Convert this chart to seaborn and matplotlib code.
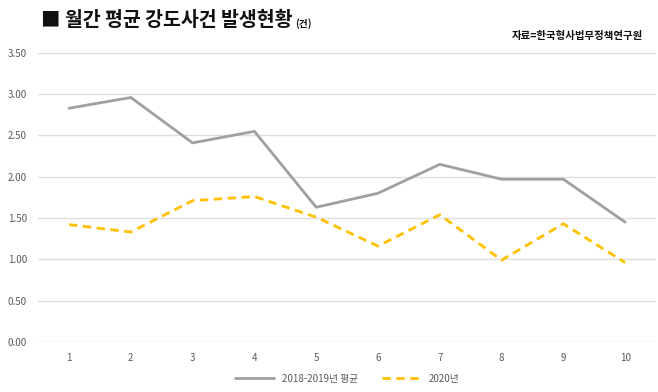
import numpy as np
import pandas as pd
import matplotlib
matplotlib.use("Agg")
import matplotlib.pyplot as plt
import seaborn as sns

# data
months = [1, 2, 3, 4, 5, 6, 7, 8, 9, 10]
avg_2018_2019 = [2.83, 2.96, 2.41, 2.55, 1.63, 1.80, 2.15, 1.97, 1.97, 1.45]
y2020 = [1.42, 1.33, 1.71, 1.76, 1.51, 1.16, 1.54, 0.99, 1.43, 0.96]
series_names = ["2018-2019년 평균", "2020년"]
y_ticks = [0.0, 0.5, 1.0, 1.5, 2.0, 2.5, 3.0, 3.5]

sns.set_style("white")
plt.rcParams['font.family'] = ['Noto Sans CJK KR', 'DejaVu Sans']

df = pd.DataFrame({
    "month": months * 2,
    "value": avg_2018_2019 + y2020,
    "series": [series_names[0]] * len(months) + [series_names[1]] * len(months),
})

fig = plt.figure(figsize=(6.58, 3.92), dpi=100)
ax = fig.add_axes([0.058, 0.128, 0.939, 0.737])

palette = {series_names[0]: "#a0a0a0", series_names[1]: "#ffc000"}
dashes = {series_names[0]: "", series_names[1]: (3, 2)}
sns.lineplot(data=df, x="month", y="value", hue="series", style="series",
             palette=palette, dashes=dashes, linewidth=2, ax=ax, legend=True)

ax.set_xlim(months[0] - 0.5, months[-1] + 0.5)
ax.set_ylim(0, 3.5)
ax.set_xticks(months)
ax.set_yticks(y_ticks)
ax.set_yticklabels([f"{v:.2f}" for v in y_ticks])
ax.grid(axis="y", color="#dedede", linewidth=1)
ax.set_axisbelow(True)
for s in ax.spines.values():
    s.set_visible(False)
ax.tick_params(axis="both", length=0, labelsize=7, colors="#595959", pad=8)
ax.set_xlabel("")
ax.set_ylabel("")

leg = ax.legend(loc="upper center", bbox_to_anchor=(0.5, -0.08), ncol=2,
                frameon=False, fontsize=7, handlelength=4, columnspacing=2.5)
for t in leg.get_texts():
    t.set_color("#595959")

title = fig.text(0.062, 0.947, "■ 월간 평균 강도사건 발생현황", fontsize=14,
                 fontweight="bold", color="#111111", va="center")
fig.canvas.draw()
bb = title.get_window_extent().transformed(fig.transFigure.inverted())
fig.text(bb.x1 + 0.004, 0.940, "(건)", fontsize=7, fontweight="bold",
         color="#111111", va="center")
fig.text(0.978, 0.908, "자료=한국형사법무정책연구원", fontsize=7.5,
         fontweight="bold", color="#111111", va="center", ha="right")

fig.savefig("out.png", dpi=100)
